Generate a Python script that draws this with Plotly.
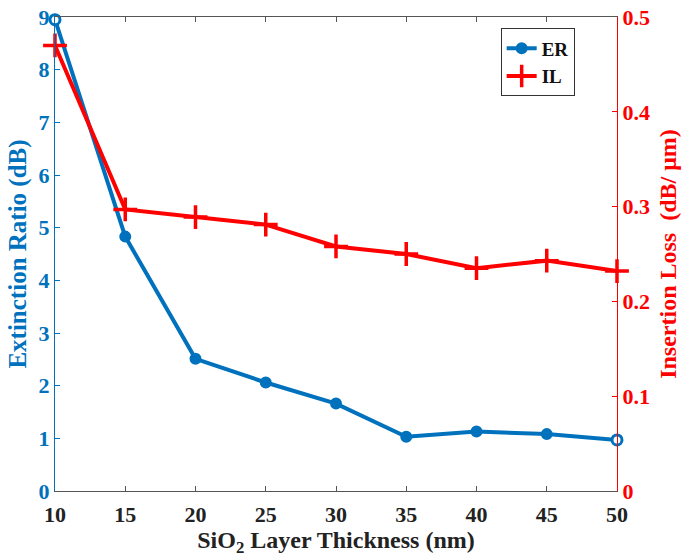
import plotly.graph_objects as go

# SiO2 layer thickness (nm)
thickness = [10, 15, 20, 25, 30, 35, 40, 45, 50]
# Extinction ratio (dB)
er_db = [8.95, 4.83, 2.51, 2.06, 1.66, 1.03, 1.13, 1.08, 0.97]
# Insertion loss (dB/um)
il_db_um = [0.470, 0.297, 0.289, 0.281, 0.258, 0.250, 0.235, 0.243, 0.232]

x_ticks = [10, 15, 20, 25, 30, 35, 40, 45, 50]
er_ticks = [0, 1, 2, 3, 4, 5, 6, 7, 8, 9]
il_ticks = [0, 0.1, 0.2, 0.3, 0.4, 0.5]

BLUE = "#0072BD"
RED = "#FF0000"
DARK = "#222222"
FONT = "Liberation Serif"

fig = go.Figure()
fig.add_trace(go.Scatter(
    x=thickness, y=er_db, name="ER", mode="lines+markers",
    line=dict(color=BLUE, width=4),
    marker=dict(symbol="circle", size=10, color=BLUE,
                line=dict(color=BLUE, width=2)),
    cliponaxis=False, yaxis="y",
))
# hollow markers at the two ends of the ER curve
end_idx = [0, len(thickness) - 1]
fig.add_trace(go.Scatter(
    x=[thickness[i] for i in end_idx], y=[er_db[i] for i in end_idx],
    mode="markers", showlegend=False, hoverinfo="skip",
    marker=dict(symbol="circle", size=10, color="white",
                line=dict(color=BLUE, width=3)),
    cliponaxis=False, yaxis="y",
))
fig.add_trace(go.Scatter(
    x=thickness, y=il_db_um, name="IL", mode="lines+markers",
    line=dict(color=RED, width=4),
    marker=dict(symbol="cross-thin", size=17, color=RED,
                line=dict(color=RED, width=3.5)),
    cliponaxis=False, yaxis="y2",
))

fig.update_layout(
    width=684, height=559,
    margin=dict(l=55, r=67, t=17, b=68),
    paper_bgcolor="white", plot_bgcolor="white",
    font=dict(family=FONT, size=22, weight="bold"),
    showlegend=True,
    legend=dict(
        x=0.793, y=0.976, xanchor="left", yanchor="top",
        bgcolor="white", bordercolor="#333333", borderwidth=1,
        font=dict(family=FONT, size=19, color="#111111", weight="bold"),
        tracegroupgap=0,
    ),
    xaxis=dict(
        range=[10, 50], tickvals=x_ticks, automargin=False,
        showgrid=False, zeroline=False,
        showline=True, linecolor="#555555", linewidth=1, mirror="ticks",
        ticks="inside", ticklen=5, tickcolor="#555555",
        ticklabelstandoff=4,
        tickfont=dict(family=FONT, size=22, color=DARK, weight="bold"),
        title=dict(text="SiO<sub>2</sub> Layer Thickness (nm)",
                   font=dict(family=FONT, size=24, color=DARK, weight="bold"),
                   standoff=4),
    ),
    yaxis=dict(
        range=[0, 9], tickvals=er_ticks, automargin=False,
        showgrid=False, zeroline=False,
        showline=True, linecolor=BLUE, linewidth=1,
        ticks="inside", ticklen=5, tickcolor=BLUE,
        tickfont=dict(family=FONT, size=22, color=BLUE, weight="bold"),
        title=dict(text="Extinction Ratio (dB)",
                   font=dict(family=FONT, size=25, color=BLUE, weight="bold"),
                   standoff=4),
    ),
    yaxis2=dict(
        range=[0, 0.5], tickvals=il_ticks, automargin=False,
        overlaying="y", side="right",
        showgrid=False, zeroline=False,
        showline=True, linecolor=RED, linewidth=1,
        ticks="inside", ticklen=5, tickcolor=RED,
        tickfont=dict(family=FONT, size=22, color=RED, weight="bold"),
        title=dict(text="Insertion Loss  (dB/ \u03bcm)",
                   font=dict(family=FONT, size=24, color=RED, weight="bold"),
                   standoff=10),
    ),
)

fig.write_html("out.html")
